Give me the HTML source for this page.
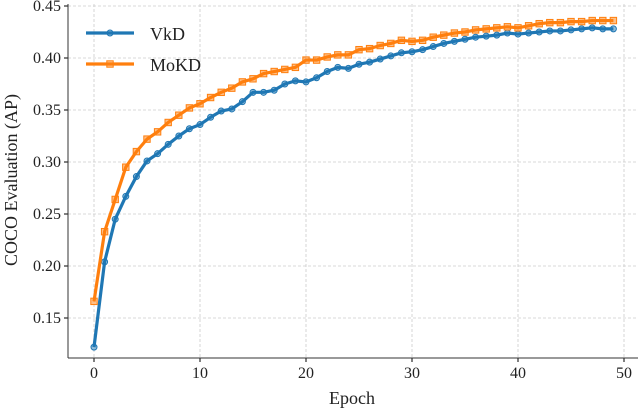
<!DOCTYPE html>
<html><head><meta charset="utf-8"><style>
body{margin:0;background:#fff}
svg text{font-family:"Liberation Serif","DejaVu Serif",serif;fill:#222}
</style></head><body>
<svg id="c" width="640" height="410" xmlns="http://www.w3.org/2000/svg"></svg>
<script>
const epochs=[...Array(50).keys()];
const vkd=[0.122,0.204,0.245,0.267,0.286,0.301,0.308,0.317,0.325,0.332,0.336,0.343,0.349,0.351,0.358,0.367,0.367,0.369,0.375,0.378,0.377,0.381,0.387,0.391,0.390,0.394,0.396,0.399,0.402,0.405,0.406,0.408,0.411,0.414,0.416,0.418,0.420,0.421,0.422,0.424,0.423,0.424,0.425,0.426,0.426,0.427,0.428,0.429,0.428,0.428];
const mokd=[0.166,0.233,0.264,0.295,0.310,0.322,0.329,0.338,0.345,0.352,0.356,0.362,0.367,0.371,0.377,0.380,0.385,0.387,0.389,0.391,0.398,0.398,0.401,0.403,0.403,0.408,0.409,0.412,0.414,0.417,0.416,0.417,0.420,0.422,0.424,0.425,0.427,0.428,0.429,0.430,0.429,0.431,0.433,0.434,0.434,0.435,0.435,0.436,0.436,0.436];
const xTicks=[0,10,20,30,40,50];
const yTicks=[0.15,0.20,0.25,0.30,0.35,0.40,0.45];
const X=v=>94+v*10.6;
const Y=v=>6+(0.45-v)*1040;
const svg=document.getElementById('c');
const NS='http://www.w3.org/2000/svg';
function el(t,a,p){const e=document.createElementNS(NS,t);for(const k in a)e.setAttribute(k,a[k]);(p||svg).appendChild(e);return e;}
const L=68,R=638,T=4,B=358;
xTicks.forEach(t=>{
 const g=el('line',{x1:X(t),x2:X(t),y1:T,y2:B,stroke:'#ccc','stroke-dasharray':'3,2','stroke-width':0.8});
 
 el('line',{x1:X(t),x2:X(t),y1:B,y2:B+4,stroke:'#000'});
 const tx=el('text',{x:X(t),y:B+20,'text-anchor':'middle','font-size':16});tx.textContent=t;
 
});
yTicks.forEach(t=>{
 const g=el('line',{x1:L,x2:R,y1:Y(t),y2:Y(t),stroke:'#ccc','stroke-dasharray':'3,2','stroke-width':0.8});
 
 el('line',{x1:L-4,x2:L,y1:Y(t),y2:Y(t),stroke:'#000'});
 const tx=el('text',{x:L-7,y:Y(t)+5,'text-anchor':'end','font-size':16});tx.textContent=t.toFixed(2);
 
});
const ya=el('line',{x1:L,x2:L,y1:T,y2:B,stroke:'#333','stroke-width':1});

const xa=el('line',{x1:L,x2:R,y1:B,y2:B,stroke:'#333','stroke-width':1});

function series(vals,color,marker,name){
 const g=el('g',{});
 el('polyline',{points:vals.map((v,i)=>X(epochs[i])+','+Y(v)).join(' '),fill:'none',stroke:color,'stroke-width':3.2,'stroke-linejoin':'round'},g);
 vals.forEach((v,i)=>{
  let m;
  if(marker==='o')m=el('circle',{cx:X(epochs[i]),cy:Y(v),r:3,fill:color,'fill-opacity':0.5,stroke:color,'stroke-width':1},g);
  else m=el('rect',{x:X(epochs[i])-3.2,y:Y(v)-3.2,width:6.4,height:6.4,fill:color,'fill-opacity':0.5,stroke:color,'stroke-width':1},g);
  
 });
}
series(vkd,'#1f77b4','o','vkd-series');
series(mokd,'#ff7f0e','s','mokd-series');
const lg=el('g',{});
el('line',{x1:86,x2:134,y1:33,y2:33,stroke:'#1f77b4','stroke-width':3.2},lg);
el('circle',{cx:110,cy:33,r:3,fill:'#1f77b4','fill-opacity':0.5,stroke:'#1f77b4'},lg);
let t1=el('text',{x:150,y:40,'font-size':18},lg);t1.textContent='VkD';

el('line',{x1:86,x2:134,y1:64,y2:64,stroke:'#ff7f0e','stroke-width':3.2},lg);
el('rect',{x:106.8,y:60.8,width:6.4,height:6.4,fill:'#ff7f0e','fill-opacity':0.5,stroke:'#ff7f0e'},lg);
let t2=el('text',{x:150,y:71,'font-size':18},lg);t2.textContent='MoKD';

const xl=el('text',{x:(L+R)/2-1,y:404,'text-anchor':'middle','font-size':18});xl.textContent='Epoch';

const yl=el('text',{x:0,y:0,'text-anchor':'middle','font-size':18,transform:'translate(17,180) rotate(-90)'});yl.textContent='COCO Evaluation (AP)';

</script>
</body></html>
